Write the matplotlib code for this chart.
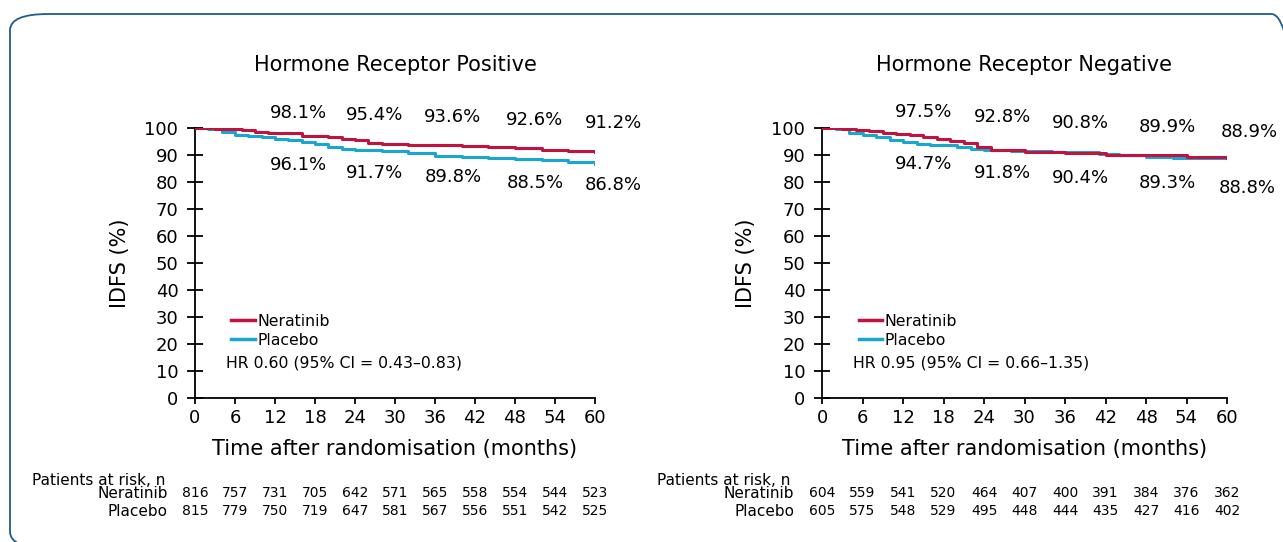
import matplotlib
matplotlib.use('Agg')
import matplotlib.pyplot as plt
from matplotlib.patches import FancyBboxPatch
from matplotlib.transforms import blended_transform_factory
from matplotlib.lines import Line2D

plt.rcParams['font.family'] = ['DejaVu Sans']

# Data
judul = ['Hormone Receptor Positive', 'Hormone Receptor Negative']
hr_teks = ['HR 0.60 (95% CI = 0.43\u20130.83)', 'HR 0.95 (95% CI = 0.66\u20131.35)']

# Kaplan-Meier steps, HR positive
t_pos_ner = [0, 3, 5, 7, 9, 11, 13, 16, 20, 22, 24, 26, 28, 32, 36, 40, 44, 48, 52, 56, 60]
s_pos_ner = [100, 99.8, 99.5, 99.1, 98.7, 98.3, 98.0, 97.1, 96.8, 96.0, 95.4, 94.6, 94.1, 93.8, 93.6, 93.3, 93.0, 92.6, 92.0, 91.5, 91.2]
t_pos_pla = [0, 2, 4, 6, 8, 10, 12, 14, 16, 18, 20, 22, 24, 28, 32, 36, 40, 44, 48, 52, 56, 60]
s_pos_pla = [100, 99.5, 98.6, 97.5, 97.0, 96.5, 96.1, 95.7, 95.0, 94.0, 92.8, 92.2, 91.7, 91.3, 90.6, 89.8, 89.4, 89.0, 88.5, 88.0, 87.3, 86.8]

# Kaplan-Meier steps, HR negative
t_neg_ner = [0, 3, 5, 7, 9, 11, 13, 15, 17, 19, 21, 23, 25, 30, 36, 42, 48, 54, 60]
s_neg_ner = [100, 99.6, 99.2, 98.8, 98.2, 97.8, 97.3, 96.7, 96.0, 95.3, 94.4, 93.0, 91.9, 91.1, 90.8, 89.9, 89.9, 89.3, 88.9]
t_neg_pla = [0, 2, 4, 6, 8, 10, 12, 14, 16, 18, 20, 22, 24, 28, 34, 41, 44, 48, 52, 56, 60]
s_neg_pla = [100, 99.6, 98.3, 97.3, 96.8, 95.5, 94.7, 94.1, 93.8, 93.6, 93.1, 92.4, 91.8, 91.4, 91.2, 90.2, 90.1, 89.3, 89.0, 88.9, 88.8]

# Labels di tiap 12 bulan
lbl_pos_ner = ['98.1%', '95.4%', '93.6%', '92.6%', '91.2%']
lbl_pos_pla = ['96.1%', '91.7%', '89.8%', '88.5%', '86.8%']
lbl_neg_ner = ['97.5%', '92.8%', '90.8%', '89.9%', '88.9%']
lbl_neg_pla = ['94.7%', '91.8%', '90.4%', '89.3%', '88.8%']

# Patients at risk
bulan = [0, 6, 12, 18, 24, 30, 36, 42, 48, 54, 60]
risk_pos_ner = [816, 757, 731, 705, 642, 571, 565, 558, 554, 544, 523]
risk_pos_pla = [815, 779, 750, 719, 647, 581, 567, 556, 551, 542, 525]
risk_neg_ner = [604, 559, 541, 520, 464, 407, 400, 391, 384, 376, 362]
risk_neg_pla = [605, 575, 548, 529, 495, 448, 444, 435, 427, 416, 402]

merah = '#c2123e'
biru = '#1aa6d2'

fig = plt.figure(figsize=(12.83, 5.42), dpi=100)

# bingkai luar
bingkai = FancyBboxPatch((10 / 1283, 1 - 548 / 542), 1300 / 1283, 534 / 542,
                         boxstyle='round,pad=0,rounding_size=0.03',
                         transform=fig.transFigure, fill=False,
                         edgecolor='#1d5d8c', linewidth=1.3)
fig.patches.append(bingkai)

ax1 = fig.add_axes([195 / 1283, 1 - 398 / 542, 400 / 1283, 270 / 542])
ax2 = fig.add_axes([822 / 1283, 1 - 398 / 542, 405 / 1283, 270 / 542])

panel = [
    (ax1, t_pos_ner, s_pos_ner, t_pos_pla, s_pos_pla, lbl_pos_ner, lbl_pos_pla,
     risk_pos_ner, risk_pos_pla,
     [11.3, 22.6, 34.4, 46.7, 58.5], [105.6, 104.8, 104.1, 103.0, 102.0],
     [11.3, 22.6, 34.4, 46.7, 58.5], [86.3, 83.3, 81.9, 79.8, 79.0]),
    (ax2, t_neg_ner, s_neg_ner, t_neg_pla, s_neg_pla, lbl_neg_ner, lbl_neg_pla,
     risk_neg_ner, risk_neg_pla,
     [10.8, 22.5, 34.1, 47.0, 59.0], [106.0, 104.2, 102.0, 100.2, 98.5],
     [10.8, 22.5, 34.1, 47.0, 58.8], [86.7, 83.3, 81.5, 79.8, 77.8]),
]

for i, (ax, tn, sn, tp, sp, ln, lp, rn, rp, xn, yn, xp, yp) in enumerate(panel):
    ax.step(tn, sn, where='post', color=merah, linewidth=2.2, zorder=3)
    ax.step(tp, sp, where='post', color=biru, linewidth=2.2, zorder=2)

    ax.set_xlim(0, 60)
    ax.set_ylim(0, 100)
    ax.set_xticks(bulan)
    ax.set_yticks(range(0, 101, 10))
    for s in ['top', 'right']:
        ax.spines[s].set_visible(False)
    ax.spines['left'].set_linewidth(1.3)
    ax.spines['bottom'].set_linewidth(1.3)
    ax.tick_params(axis='y', direction='inout', length=12, width=1.3, labelsize=13, pad=6)
    ax.tick_params(axis='x', direction='out', length=4, width=1.3, labelsize=13, pad=4)
    ax.set_facecolor('none')

    ax.set_xlabel('Time after randomisation (months)', fontsize=15)
    ax.xaxis.set_label_coords(0.5, -0.15)
    ax.set_ylabel('IDFS (%)', fontsize=15)
    ax.yaxis.set_label_coords(-0.163, 0.5)

    ax.text(0.5, 1.233, judul[i], transform=ax.transAxes, ha='center', va='center', fontsize=15)

    for x, y, t in zip(xn, yn, ln):
        ax.text(x, y, t, ha='left', va='center', fontsize=13, clip_on=False)
    for x, y, t in zip(xp, yp, lp):
        ax.text(x, y, t, ha='left', va='center', fontsize=13, clip_on=False)

    # legend
    h = [Line2D([0], [0], color=merah, linewidth=2.5), Line2D([0], [0], color=biru, linewidth=2.5)]
    ax.legend(h, ['Neratinib', 'Placebo'], loc='upper left', bbox_to_anchor=(0.075, 0.335),
              frameon=False, fontsize=11.3, handlelength=1.5, handletextpad=0.15,
              labelspacing=0.25, borderaxespad=0)
    ax.text(0.077, 0.13, hr_teks[i], transform=ax.transAxes, ha='left', va='center', fontsize=11.3)

    # tabel risiko
    tr = blended_transform_factory(ax.transData, ax.transAxes)
    ax.text(-24.4, -0.304, 'Patients at risk, n', transform=tr, ha='left', va='center', fontsize=11, clip_on=False)
    ax.text(-4.1, -0.352, 'Neratinib', transform=tr, ha='right', va='center', fontsize=11, clip_on=False)
    ax.text(-4.1, -0.419, 'Placebo', transform=tr, ha='right', va='center', fontsize=11, clip_on=False)
    for b, a, c in zip(bulan, rn, rp):
        ax.text(b, -0.352, str(a), transform=tr, ha='center', va='center', fontsize=10, clip_on=False)
        ax.text(b, -0.419, str(c), transform=tr, ha='center', va='center', fontsize=10, clip_on=False)

fig.savefig('out.png', dpi=100)
